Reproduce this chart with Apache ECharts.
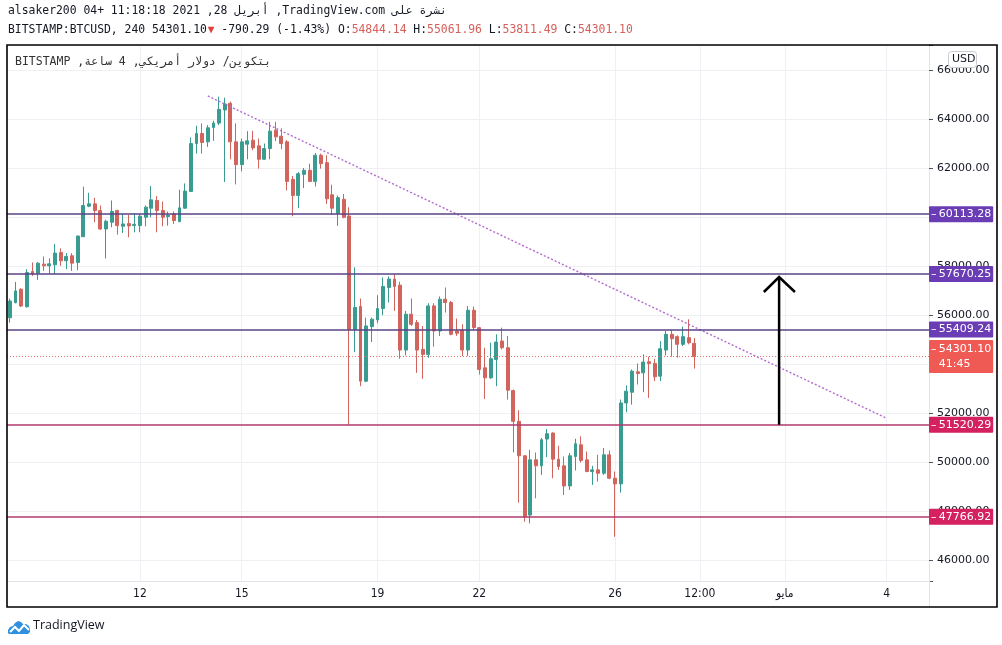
<!DOCTYPE html>
<html><head><meta charset="utf-8">
<script src="https://cdn.jsdelivr.net/npm/echarts@6/dist/echarts.min.js"></script>
<style>html,body{margin:0;padding:0;background:#fff}#c{width:1002px;height:645px}</style>
</head><body><div id="c"></div>
<script>
// ---- data (4h candles, BITSTAMP:BTCUSD) ----
const opens = [55888,56503,57050,56339,57775,57706,58076,58007,58048,58554,
58213,58417,58144,59197,60441,60537,60264,59511,59785,60264,
59621,59730,59648,59648,59990,60359,60674,60264,60017,60127,
59812,60359,61043,62998,63408,63067,63654,63832,64366,64639,
63067,62137,62971,63135,62903,62355,62793,63545,63299,63067,
61535,60879,61740,61904,61453,62520,62219,60906,60150,60722,
60041,55416,56345,53299,55525,55799,56263,57124,57465,57219,
54569,56031,55689,54597,54392,56372,55348,56645,56509,55348,
55389,54569,56195,55484,53845,53435,54187,54938,54665,52916,
51660,50253,47835,50089,49843,50936,51182,50116,49843,49023,
50225,50703,50089,49611,49679,49542,50294,49338,49105,52411,
52848,53681,53640,54091,54023,53504,54569,55211,55116,54802,
55075,54844.14];
const closes = [56571,56982,56366,57734,57666,58117,58007,58089,58527,58213,
58390,58117,59224,60469,60537,60264,59511,59826,60222,59648,
59717,59635,59703,60031,60400,60701,60264,59990,60072,59853,
60373,61057,62998,63408,63039,63641,63832,64393,64612,63067,
62137,63067,63108,62821,62355,62793,63504,63272,62998,61453,
60879,61767,61904,61453,62520,62178,60742,60359,60790,59988,
55416,56304,53299,55553,55826,56263,57164,57465,57164,54569,
56031,55621,54569,54392,56372,55348,56645,56509,55211,55252,
54569,56195,55484,53777,53435,54214,54897,54665,52930,51660,
50253,47767,50089,49843,50908,51154,50116,49816,49023,50253,
50744,50061,49611,49679,49542,50294,49338,49105,52411,52889,
53709,53613,54077,54023,53476,54624,55211,55034,54802,55116,
54870,54301.10];
const highs = [56667,57351,57091,57870,58144,58158,58390,58308,58896,58719,
58527,58527,59238,61234,60988,60784,60469,59894,60674,60304,
60127,60086,60154,60127,60469,61262,60852,60633,60222,60222,
61112,61371,63244,63723,63819,63750,63928,64912,64871,64707,
63819,63203,63504,63518,63203,62998,63887,63887,63614,63135,
61672,61836,62000,62178,62615,62588,62520,61317,60879,60939,
60396,57943,56673,55894,55894,56809,57533,57574,57670,57356,
56167,56673,55799,55553,56482,56482,56755,57124,56577,55853,
55621,56372,56345,55512,54665,54870,55211,55484,55143,52957,
52111,50280,50499,50389,50977,51346,51209,50662,50225,50362,
50949,51045,50430,49843,50294,50567,50471,49611,52548,53122,
53777,54023,54392,54296,54214,54938,55348,55389,55170,55525,
55826,55061.96];
const lows = [55683,56476,56325,56298,57597,57433,57802,57693,57666,58007,
57870,57802,57830,59197,60400,59785,59470,58308,59580,59279,
59347,59170,59375,59375,59621,59990,59375,59621,59648,59717,
59785,60332,61016,62588,62588,62861,63108,63750,61426,62355,
61330,61863,62355,62725,61973,62342,62355,63094,62766,61084,
60031,60359,61180,61426,61248,61973,60537,60086,59640,59947,
51520,54487,53094,53258,54897,55662,55990,56509,56167,54214,
54351,55553,53640,53395,54255,54706,55143,56099,55170,55143,
54323,54323,55389,53572,52575,53395,53094,54597,52547,50389,
48340,47562,47493,48518,49474,50198,49338,49679,48654,48859,
49651,49979,49583,49064,49201,49474,49297,46947,48750,52028,
52343,53162,52848,52616,53299,53299,54351,54296,54255,54733,
54802,53811.49];
const slotCount = 163;               // 4h slots shown on the time axis
const tickIndex  = [23, 41, 65, 83, 107, 122, 137, 155];
const tickLabels = ['12', '15', '19', '22', '26', '12:00', 'مايو', '4'];
const levelValues = [60113.28, 57670.25, 55409.24, 51520.29, 47766.92];
const levelGroup  = [0, 0, 0, 1, 1];
const lastPrice = 54301.10;
const priceChange = -790.29;
const pctChange = -1.43;
const countdown = '41:45';
const trendX = [35.0, 154.9];
const trendY = [64939, 51796];
const arrowShaftX = [136, 136];
const arrowShaftY = [51520.29, 57551];
const arrowHeadX = [133.3, 136, 138.8];
const arrowHeadY = [56939, 57551, 56939];

// ---- styles ----
const UP = '#3a9c90', DOWN = '#d2645e';
const LINE_COL = ['#5b4385', '#b23a6c'];
const LABEL_BG = ['#6a3db5', '#d4215f'];
const MONO = '"DejaVu Sans Mono", monospace';
const AXF = '"DejaVu Sans", sans-serif';
const HF = '11.4px ' + MONO;

const cats = Array.from({length: slotCount}, (_, i) => String(i));
const candles = opens.map((o, i) => [o, closes[i], lows[i], highs[i]]);
const pairs = (xs, ys) => xs.map((x, i) => [x, ys[i]]);

const levelLines = levelValues.map((v, i) => ({
  yAxis: v,
  lineStyle: {color: LINE_COL[levelGroup[i]], width: 1.5, type: 'solid'},
  label: {formatter: '–\u2009' + v.toFixed(2), backgroundColor: LABEL_BG[levelGroup[i]]}
}));
levelLines.push({
  yAxis: lastPrice,
  lineStyle: {color: '#e0716b', width: 1, type: [1, 2]},
  label: {formatter: '–\u2009' + lastPrice.toFixed(2) + '\n\u2002\u2009' + countdown, backgroundColor: '#ef5a55', lineHeight: 15, padding: [2, 2, 1, 2]}
});

const last = opens.length - 1;
const hdr2 = '{a|BITSTAMP:BTCUSD, 240 ' + lastPrice.toFixed(2) + '}{r|▼}{a| ' + priceChange.toFixed(2) +
  ' (' + pctChange.toFixed(2) + '%) O:}{v|' + opens[last].toFixed(2) + '}{a| H:}{v|' + highs[last].toFixed(2) +
  '}{a| L:}{v|' + lows[last].toFixed(2) + '}{a| C:}{v|' + closes[last].toFixed(2) + '}';

const chart = echarts.init(document.getElementById('c'), null, {renderer: 'canvas'});
chart.setOption({
  animation: false,
  backgroundColor: '#fff',
  grid: {left: 7, right: 73, top: 45, bottom: 64},
  xAxis: [{
    type: 'category', data: cats, boundaryGap: true,
    axisLine: {show: true, onZero: false, lineStyle: {color: '#e0e3eb'}},
    axisTick: {show: false},
    axisLabel: {
      interval: (i) => tickIndex.includes(i),
      formatter: (v) => { const k = tickIndex.indexOf(Number(v)); return k >= 0 ? tickLabels[k] : ''; },
      color: '#131722', fontSize: 12, margin: 7,
      fontFamily: '"Liberation Sans Narrow", "DejaVu Sans Condensed", "Liberation Sans", sans-serif'
    },
    splitLine: {show: true, alignWithLabel: true, interval: (i) => tickIndex.includes(i), lineStyle: {color: '#eef0f3'}}
  }, {
    type: 'value', min: -0.5, max: slotCount - 0.5, show: false
  }],
  yAxis: [{
    type: 'value', position: 'right', min: 45143, max: 67020, splitNumber: 10,
    axisLine: {show: true, onZero: false, lineStyle: {color: '#e0e3eb'}},
    axisTick: {show: true, length: 4, lineStyle: {color: '#555'}},
    axisLabel: {
      formatter: (v) => (Math.abs(v % 2000) < 1e-6 ? v.toFixed(2) : ''),
      color: '#131722', fontSize: 11, margin: 8, fontFamily: AXF
    },
    splitLine: {show: true, lineStyle: {color: '#eef0f3'}}
  }],
  series: [{
    type: 'candlestick', data: candles, barWidth: 3.4, z: 3,
    itemStyle: {color: UP, color0: DOWN, borderColor: UP, borderColor0: DOWN, borderWidth: 1},
    markLine: {
      silent: true, symbol: ['none', 'none'], animation: false,
      label: {position: 'end', distance: 0, color: '#fff', fontSize: 11, fontFamily: AXF, padding: [3, 2, 2, 2], borderRadius: 1},
      data: levelLines
    }
  }, {
    type: 'line', xAxisIndex: 1, data: pairs(trendX, trendY), symbol: 'none', z: 4, silent: true,
    lineStyle: {color: '#b36ad0', width: 1.4, type: [2, 2]}
  }, {
    type: 'line', xAxisIndex: 1, data: pairs(arrowShaftX, arrowShaftY), symbol: 'none', z: 5, silent: true,
    lineStyle: {color: '#000', width: 2.5}
  }, {
    type: 'line', xAxisIndex: 1, data: pairs(arrowHeadX, arrowHeadY), symbol: 'none', z: 5, silent: true,
    lineStyle: {color: '#000', width: 2.5, join: 'miter'}
  }],
  graphic: [
    {type: 'rect', z: 100, shape: {x: 7, y: 45, width: 990, height: 562}, style: {fill: 'none', stroke: '#000', lineWidth: 1.6}},
    {type: 'line', z: 99, shape: {x1: 929.5, y1: 581, x2: 929.5, y2: 607}, style: {stroke: '#e0e3eb', lineWidth: 1}},
    {type: 'text', z: 100, x: 8, y: 6, style: {text: 'alsaker200 04+ 11:18:18 2021 ,28 أبريل ,TradingView.com نشرة على', font: HF, fill: '#131722'}},
    {type: 'text', z: 100, x: 8, y: 25, style: {text: hdr2, font: HF, fill: '#131722',
      rich: {a: {font: HF, fill: '#131722'}, v: {font: HF, fill: '#d6605c'}, r: {font: '11px ' + MONO, fill: '#e0403a', padding: [0, 0, 0, 1]}}}},
    {type: 'text', z: 100, x: 15, y: 56, style: {text: '\u202Bبتكوين/ دولار أمريكي, 4 ساعة, BITSTAMP\u202C', font: '11.5px ' + MONO, fill: '#333'}},
    {type: 'rect', z: 100, shape: {x: 948.5, y: 51.5, width: 28, height: 16, r: 3}, style: {fill: '#fff', stroke: '#c8cbd2', lineWidth: 1}},
    {type: 'text', z: 101, x: 952, y: 54, style: {text: 'USD', font: '11px ' + AXF, fill: '#131722'}},
    {type: 'polygon', z: 100, shape: {points: [[8,633],[8,630],[10,627],[13,626],[15,623],[18,621],[21,622],[23,624],[26,624],[29,626],[30,629],[30,632],[28,634],[9,634]]}, style: {fill: '#2f8fe0'}},
    {type: 'polyline', z: 101, shape: {points: [[10, 632], [15, 627], [19, 631], [24, 625], [29, 630]]}, style: {stroke: '#fff', lineWidth: 2, fill: 'none'}},
    {type: 'text', z: 100, x: 33, y: 619, style: {text: 'TradingView', font: '12.5px "Open Sans", sans-serif', fill: '#131722'}}
  ]
});
</script></body></html>
